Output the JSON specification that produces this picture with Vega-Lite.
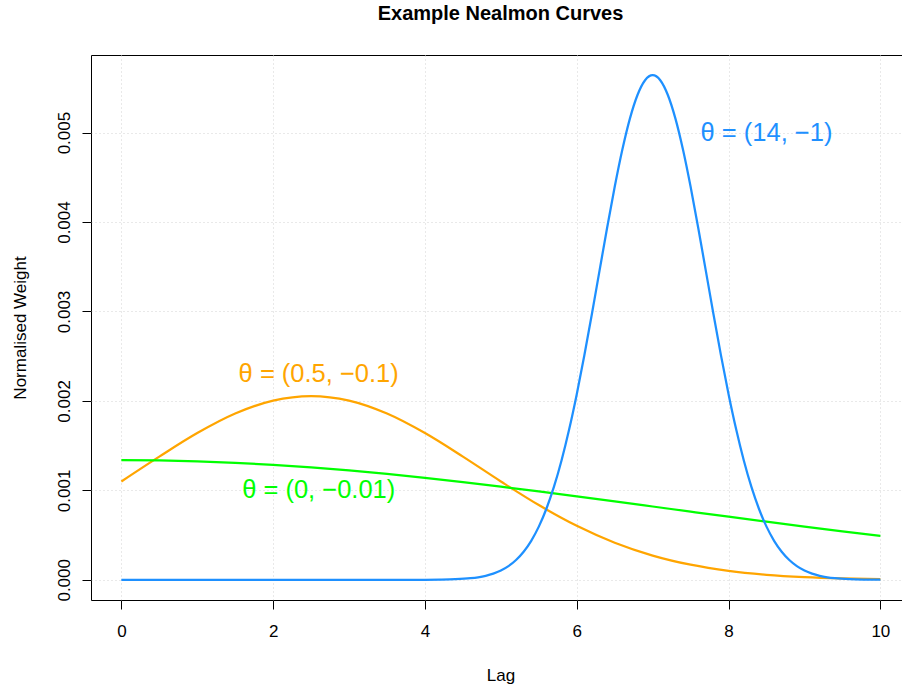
{
  "$schema": "https://vega.github.io/schema/vega-lite/v6.json",
  "width": 811,
  "height": 545,
  "autosize": {"type": "none"},
  "padding": {"left": 91, "top": 55, "right": 0, "bottom": 86},
  "background": "white",
  "title": {"text": "Example Nealmon Curves", "font": "Liberation Sans", "fontSize": 20, "fontWeight": "bold", "color": "black", "anchor": "middle", "frame": "group", "dx": 4, "baseline": "alphabetic", "offset": 15},
  "config": {
    "view": {"stroke": "black", "strokeWidth": 1, "fill": "white"},
    "axis": {"labelFont": "Liberation Sans", "labelFontSize": 17, "labelColor": "black", "tickColor": "black", "tickSize": 9, "tickWidth": 1, "domain": false, "grid": true, "gridColor": "#D3D3D3", "gridDash": [1, 3], "gridWidth": 1, "titleFont": "Liberation Sans", "titleFontSize": 17, "titleFontWeight": "normal", "titleColor": "black", "labelFlush": false, "labelOverlap": false}
  },
  "datasets": {
    "curves": [
      {"theta": "θ = (0.5, −0.1)", "lag": 0, "w": 0.0010998},
      {"theta": "θ = (0.5, −0.1)", "lag": 0.5, "w": 0.0013773},
      {"theta": "θ = (0.5, −0.1)", "lag": 1, "w": 0.0016407},
      {"theta": "θ = (0.5, −0.1)", "lag": 1.5, "w": 0.0018592},
      {"theta": "θ = (0.5, −0.1)", "lag": 2, "w": 0.0020040},
      {"theta": "θ = (0.5, −0.1)", "lag": 2.5, "w": 0.0020547},
      {"theta": "θ = (0.5, −0.1)", "lag": 3, "w": 0.0020040},
      {"theta": "θ = (0.5, −0.1)", "lag": 3.5, "w": 0.0018592},
      {"theta": "θ = (0.5, −0.1)", "lag": 4, "w": 0.0016407},
      {"theta": "θ = (0.5, −0.1)", "lag": 4.5, "w": 0.0013773},
      {"theta": "θ = (0.5, −0.1)", "lag": 5, "w": 0.0010998},
      {"theta": "θ = (0.5, −0.1)", "lag": 5.5, "w": 0.0008354},
      {"theta": "θ = (0.5, −0.1)", "lag": 6, "w": 0.0006036},
      {"theta": "θ = (0.5, −0.1)", "lag": 6.5, "w": 0.0004148},
      {"theta": "θ = (0.5, −0.1)", "lag": 7, "w": 0.0002712},
      {"theta": "θ = (0.5, −0.1)", "lag": 7.5, "w": 0.0001687},
      {"theta": "θ = (0.5, −0.1)", "lag": 8, "w": 0.0000998},
      {"theta": "θ = (0.5, −0.1)", "lag": 8.5, "w": 0.0000561},
      {"theta": "θ = (0.5, −0.1)", "lag": 9, "w": 0.0000301},
      {"theta": "θ = (0.5, −0.1)", "lag": 9.5, "w": 0.0000153},
      {"theta": "θ = (0.5, −0.1)", "lag": 10, "w": 0.0000074},
      {"theta": "θ = (0, −0.01)", "lag": 0, "w": 0.0013378},
      {"theta": "θ = (0, −0.01)", "lag": 0.5, "w": 0.0013345},
      {"theta": "θ = (0, −0.01)", "lag": 1, "w": 0.0013245},
      {"theta": "θ = (0, −0.01)", "lag": 1.5, "w": 0.0013080},
      {"theta": "θ = (0, −0.01)", "lag": 2, "w": 0.0012853},
      {"theta": "θ = (0, −0.01)", "lag": 2.5, "w": 0.0012567},
      {"theta": "θ = (0, −0.01)", "lag": 3, "w": 0.0012226},
      {"theta": "θ = (0, −0.01)", "lag": 3.5, "w": 0.0011836},
      {"theta": "θ = (0, −0.01)", "lag": 4, "w": 0.0011400},
      {"theta": "θ = (0, −0.01)", "lag": 4.5, "w": 0.0010926},
      {"theta": "θ = (0, −0.01)", "lag": 5, "w": 0.0010419},
      {"theta": "θ = (0, −0.01)", "lag": 5.5, "w": 0.0009886},
      {"theta": "θ = (0, −0.01)", "lag": 6, "w": 0.0009333},
      {"theta": "θ = (0, −0.01)", "lag": 6.5, "w": 0.0008768},
      {"theta": "θ = (0, −0.01)", "lag": 7, "w": 0.0008196},
      {"theta": "θ = (0, −0.01)", "lag": 7.5, "w": 0.0007622},
      {"theta": "θ = (0, −0.01)", "lag": 8, "w": 0.0007054},
      {"theta": "θ = (0, −0.01)", "lag": 8.5, "w": 0.0006495},
      {"theta": "θ = (0, −0.01)", "lag": 9, "w": 0.0005951},
      {"theta": "θ = (0, −0.01)", "lag": 9.5, "w": 0.0005426},
      {"theta": "θ = (0, −0.01)", "lag": 10, "w": 0.0004922},
      {"theta": "θ = (14, −1)", "lag": 0, "w": 0},
      {"theta": "θ = (14, −1)", "lag": 1, "w": 0},
      {"theta": "θ = (14, −1)", "lag": 2, "w": 0},
      {"theta": "θ = (14, −1)", "lag": 3, "w": 0},
      {"theta": "θ = (14, −1)", "lag": 3.5, "w": 0},
      {"theta": "θ = (14, −1)", "lag": 4, "w": 0.0000007},
      {"theta": "θ = (14, −1)", "lag": 4.2, "w": 0.0000022},
      {"theta": "θ = (14, −1)", "lag": 4.4, "w": 0.0000065},
      {"theta": "θ = (14, −1)", "lag": 4.6, "w": 0.0000178},
      {"theta": "θ = (14, −1)", "lag": 4.7, "w": 0.0000284},
      {"theta": "θ = (14, −1)", "lag": 4.8, "w": 0.0000446},
      {"theta": "θ = (14, −1)", "lag": 4.9, "w": 0.0000686},
      {"theta": "θ = (14, −1)", "lag": 5.0, "w": 0.0001033},
      {"theta": "θ = (14, −1)", "lag": 5.1, "w": 0.0001526},
      {"theta": "θ = (14, −1)", "lag": 5.2, "w": 0.0002210},
      {"theta": "θ = (14, −1)", "lag": 5.3, "w": 0.0003136},
      {"theta": "θ = (14, −1)", "lag": 5.4, "w": 0.0004361},
      {"theta": "θ = (14, −1)", "lag": 5.5, "w": 0.0005946},
      {"theta": "θ = (14, −1)", "lag": 5.6, "w": 0.0007947},
      {"theta": "θ = (14, −1)", "lag": 5.7, "w": 0.0010410},
      {"theta": "θ = (14, −1)", "lag": 5.8, "w": 0.0013367},
      {"theta": "θ = (14, −1)", "lag": 5.9, "w": 0.0016824},
      {"theta": "θ = (14, −1)", "lag": 6.0, "w": 0.0020755},
      {"theta": "θ = (14, −1)", "lag": 6.1, "w": 0.0025098},
      {"theta": "θ = (14, −1)", "lag": 6.2, "w": 0.0029749},
      {"theta": "θ = (14, −1)", "lag": 6.3, "w": 0.0034564},
      {"theta": "θ = (14, −1)", "lag": 6.4, "w": 0.0039362},
      {"theta": "θ = (14, −1)", "lag": 6.5, "w": 0.0043939},
      {"theta": "θ = (14, −1)", "lag": 6.6, "w": 0.0048077},
      {"theta": "θ = (14, −1)", "lag": 6.7, "w": 0.0051563},
      {"theta": "θ = (14, −1)", "lag": 6.8, "w": 0.0054207},
      {"theta": "θ = (14, −1)", "lag": 6.9, "w": 0.0055858},
      {"theta": "θ = (14, −1)", "lag": 7.0, "w": 0.0056419},
      {"theta": "θ = (14, −1)", "lag": 7.1, "w": 0.0055858},
      {"theta": "θ = (14, −1)", "lag": 7.2, "w": 0.0054207},
      {"theta": "θ = (14, −1)", "lag": 7.3, "w": 0.0051563},
      {"theta": "θ = (14, −1)", "lag": 7.4, "w": 0.0048077},
      {"theta": "θ = (14, −1)", "lag": 7.5, "w": 0.0043939},
      {"theta": "θ = (14, −1)", "lag": 7.6, "w": 0.0039362},
      {"theta": "θ = (14, −1)", "lag": 7.7, "w": 0.0034564},
      {"theta": "θ = (14, −1)", "lag": 7.8, "w": 0.0029749},
      {"theta": "θ = (14, −1)", "lag": 7.9, "w": 0.0025098},
      {"theta": "θ = (14, −1)", "lag": 8.0, "w": 0.0020755},
      {"theta": "θ = (14, −1)", "lag": 8.1, "w": 0.0016824},
      {"theta": "θ = (14, −1)", "lag": 8.2, "w": 0.0013367},
      {"theta": "θ = (14, −1)", "lag": 8.3, "w": 0.0010410},
      {"theta": "θ = (14, −1)", "lag": 8.4, "w": 0.0007947},
      {"theta": "θ = (14, −1)", "lag": 8.5, "w": 0.0005946},
      {"theta": "θ = (14, −1)", "lag": 8.6, "w": 0.0004361},
      {"theta": "θ = (14, −1)", "lag": 8.7, "w": 0.0003136},
      {"theta": "θ = (14, −1)", "lag": 8.8, "w": 0.0002210},
      {"theta": "θ = (14, −1)", "lag": 8.9, "w": 0.0001526},
      {"theta": "θ = (14, −1)", "lag": 9.0, "w": 0.0001033},
      {"theta": "θ = (14, −1)", "lag": 9.1, "w": 0.0000686},
      {"theta": "θ = (14, −1)", "lag": 9.2, "w": 0.0000446},
      {"theta": "θ = (14, −1)", "lag": 9.3, "w": 0.0000284},
      {"theta": "θ = (14, −1)", "lag": 9.4, "w": 0.0000178},
      {"theta": "θ = (14, −1)", "lag": 9.6, "w": 0.0000065},
      {"theta": "θ = (14, −1)", "lag": 9.8, "w": 0.0000022},
      {"theta": "θ = (14, −1)", "lag": 10, "w": 0.0000007}
    ],
    "labels": [
      {"theta": "θ = (14, −1)", "lag": 8.5, "w": 0.005},
      {"theta": "θ = (0.5, −0.1)", "lag": 2.6, "w": 0.0023},
      {"theta": "θ = (0, −0.01)", "lag": 2.6, "w": 0.001}
    ]
  },
  "encoding": {
    "x": {"field": "lag", "type": "quantitative", "scale": {"domain": [-0.4, 10.285], "nice": false, "zero": false},
      "axis": {"values": [0, 2, 4, 6, 8, 10], "format": "d", "title": "Lag", "labelPadding": 14, "titleX": 409.5, "titleY": 80, "titleBaseline": "alphabetic", "titleAlign": "center"}},
    "y": {"field": "w", "type": "quantitative", "scale": {"domain": [-0.0002257, 0.0058676], "nice": false, "zero": false},
      "axis": {"values": [0, 0.001, 0.002, 0.003, 0.004, 0.005], "format": ".3f", "title": "Normalised Weight", "labelAngle": -90, "labelAlign": "center", "labelBaseline": "bottom", "labelPadding": 9, "titleX": -66, "titleY": 272.5, "titleAngle": -90, "titleAlign": "center", "titleBaseline": "alphabetic"}},
    "color": {"field": "theta", "type": "nominal", "legend": null,
      "scale": {"domain": ["θ = (0.5, −0.1)", "θ = (0, −0.01)", "θ = (14, −1)"], "range": ["#FFA500", "#00FF00", "#1E90FF"]}}
  },
  "layer": [
    {"data": {"name": "curves"}, "transform": [{"filter": "datum.theta === 'θ = (0.5, −0.1)'"}], "mark": {"type": "line", "strokeWidth": 2.25, "interpolate": "monotone"}},
    {"data": {"name": "curves"}, "transform": [{"filter": "datum.theta === 'θ = (0, −0.01)'"}], "mark": {"type": "line", "strokeWidth": 2.25, "interpolate": "monotone"}},
    {"data": {"name": "curves"}, "transform": [{"filter": "datum.theta === 'θ = (14, −1)'"}], "mark": {"type": "line", "strokeWidth": 2.25, "interpolate": "monotone"}},
    {"data": {"name": "labels"}, "mark": {"type": "text", "font": "Liberation Sans", "fontSize": 25.5, "align": "center", "baseline": "middle"}, "encoding": {"text": {"field": "theta"}}}
  ]
}
